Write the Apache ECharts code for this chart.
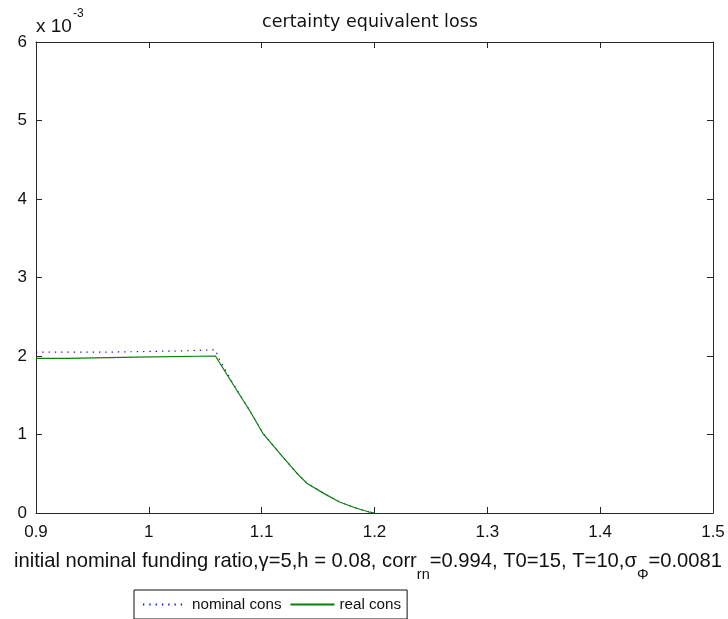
<!DOCTYPE html>
<html>
<head>
<meta charset="utf-8">
<script src="https://cdn.jsdelivr.net/npm/echarts@6/dist/echarts.min.js"></script>
<style>
  html, body { margin: 0; padding: 0; background: #fff; }
  #chart { width: 728px; height: 619px; }
</style>
</head>
<body>
<div id="chart"></div>
<script>
// Certainty equivalent loss (values in units of 1e-3) against initial nominal funding ratio
const nominalX = [0.900, 0.966, 0.967, 1.030, 1.031, 1.059, 1.062, 1.075, 1.090, 1.101, 1.116, 1.131, 1.140, 1.155, 1.169, 1.184, 1.196, 1.200];
const nominalY = [2.050, 2.050, 2.065, 2.065, 2.080, 2.080, 1.970, 1.640, 1.290, 1.020, 0.760, 0.510, 0.380, 0.250, 0.140, 0.060, 0.010, 0.000];

const realX = [0.900, 0.927, 0.928, 0.989, 0.990, 1.059, 1.075, 1.090, 1.101, 1.116, 1.131, 1.140, 1.155, 1.169, 1.184, 1.196, 1.200];
const realY = [1.970, 1.970, 1.985, 1.985, 2.000, 2.000, 1.630, 1.290, 1.015, 0.760, 0.510, 0.380, 0.250, 0.140, 0.060, 0.010, 0.000];

const xTicks = [0.9, 1.0, 1.1, 1.2, 1.3, 1.4, 1.5];
const yTicks = [0, 1, 2, 3, 4, 5, 6];

const seriesNames = ['nominal cons', 'real cons'];
const titleText = 'certainty equivalent loss';
const xLabelRich = '{t|initial nominal funding ratio,γ=5,h = 0.08, corr}{s|rn}{t|=0.994, T0=15, T=10,σ}{s|Φ}{t|=0.0081}';
const yExponentBase = 'x 10';
const yExponent = '-3';

const FONT = 'Liberation Sans, Arial, Helvetica, sans-serif';
const TITLE_FONT = 'DejaVu Sans, Verdana, sans-serif';
const AXIS_COLOR = '#262626';
const TEXT_COLOR = '#111';

const zip = (xs, ys) => xs.map((x, i) => [x, ys[i]]);
const fmtX = v => String(Number(v.toFixed(1)));

const chart = echarts.init(document.getElementById('chart'), null, { renderer: 'canvas' });

const axisCommon = {
  axisLine: { show: true, onZero: false, lineStyle: { color: AXIS_COLOR, width: 1 } },
  axisTick: { show: true, inside: true, length: 6, lineStyle: { color: AXIS_COLOR } },
  splitLine: { show: false }
};

chart.setOption({
  animation: false,
  backgroundColor: '#ffffff',
  textStyle: { fontFamily: FONT },
  title: {
    text: titleText,
    left: 365,
    top: 8,
    textAlign: 'center',
    textStyle: { fontFamily: TITLE_FONT, fontSize: 17.5, fontWeight: 'normal', color: TEXT_COLOR }
  },
  grid: { left: 36, right: 15, top: 42, bottom: 106, containLabel: false, outerBoundsMode: 'none' },
  legend: {
    data: seriesNames,
    left: 134,
    top: 590,
    orient: 'horizontal',
    itemWidth: 44,
    itemHeight: 14,
    itemGap: 8,
    padding: [7, 6, 7, 8],
    borderColor: '#111',
    borderWidth: 1,
    itemStyle: { opacity: 0 },
    textStyle: { fontFamily: FONT, fontSize: 15.2, color: TEXT_COLOR }
  },
  xAxis: [
    Object.assign({
      type: 'value', position: 'bottom',
      min: xTicks[0], max: xTicks[xTicks.length - 1], interval: 0.1,
      axisLabel: { show: true, margin: 11, fontSize: 17, color: TEXT_COLOR, fontFamily: FONT, formatter: fmtX },
      name: xLabelRich,
      nameLocation: 'middle',
      nameGap: 38,
      nameTextStyle: {
        fontFamily: FONT,
        color: TEXT_COLOR,
        padding: [0, 13, 0, 0],
        rich: {
          t: { fontSize: 20.2, fontFamily: FONT, color: TEXT_COLOR, lineHeight: 24, verticalAlign: 'top' },
          s: { fontSize: 14.5, fontFamily: FONT, color: TEXT_COLOR, lineHeight: 14, padding: [16, 0, 0, 0], verticalAlign: 'top' }
        }
      }
    }, axisCommon),
    Object.assign({
      type: 'value', position: 'top',
      min: xTicks[0], max: xTicks[xTicks.length - 1], interval: 0.1,
      axisLabel: { show: false }
    }, axisCommon)
  ],
  yAxis: [
    Object.assign({
      type: 'value', position: 'left',
      min: yTicks[0], max: yTicks[yTicks.length - 1], interval: 1,
      axisLabel: { show: true, margin: 9, fontSize: 17, color: TEXT_COLOR, fontFamily: FONT }
    }, axisCommon),
    Object.assign({
      type: 'value', position: 'right',
      min: yTicks[0], max: yTicks[yTicks.length - 1], interval: 1,
      axisLabel: { show: false }
    }, axisCommon)
  ],
  graphic: [
    {
      type: 'text',
      x: 36,
      y: 27,
      style: {
        text: yExponentBase,
        fontSize: 19,
        fontFamily: FONT,
        fill: TEXT_COLOR,
        verticalAlign: 'middle',
        align: 'left'
      }
    },
    {
      type: 'text',
      x: 73,
      y: 14,
      style: {
        text: yExponent,
        fontSize: 12,
        fontFamily: FONT,
        fill: TEXT_COLOR,
        verticalAlign: 'middle',
        align: 'left'
      }
    }
  ],
  series: [
    {
      name: seriesNames[0],
      type: 'line',
      data: zip(nominalX, nominalY),
      showSymbol: false,
      symbol: 'none',
      lineStyle: { color: '#1010c8', width: 1.2, type: [1.3, 5] },
      itemStyle: { color: '#1010c8' },
      z: 2
    },
    {
      name: seriesNames[1],
      type: 'line',
      data: zip(realX, realY),
      showSymbol: false,
      symbol: 'none',
      lineStyle: { color: '#0a7f0a', width: 1.2 },
      itemStyle: { color: '#0a7f0a' },
      z: 3
    }
  ]
});
</script>
</body>
</html>
